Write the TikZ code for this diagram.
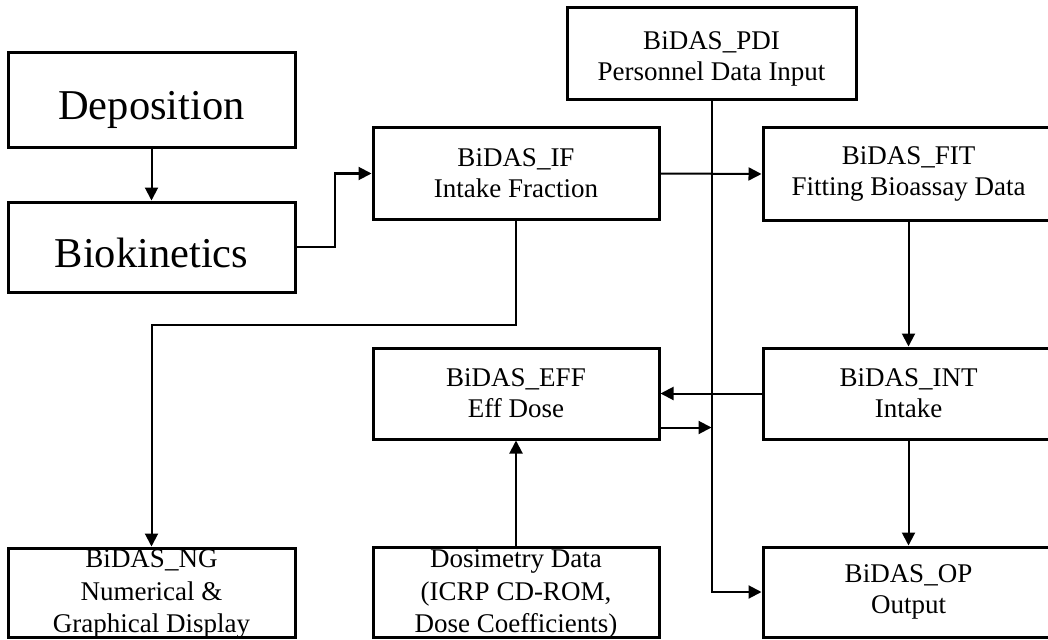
\documentclass[tikz,border=0pt]{standalone}
\usepackage{fontspec}
\setmainfont{Liberation Serif}
\usetikzlibrary{arrows.meta}
\tikzset{
  box/.style={draw=black, line width=3pt, inner sep=0pt, align=center,
    font=\fontsize{27}{31}\selectfont},
  bigbox/.style={box, font=\fontsize{42.5}{48}\selectfont},
  label/.style={inner sep=0pt, align=center, font=\fontsize{27}{31}\selectfont},
  biglabel/.style={inner sep=0pt, align=center, font=\fontsize{42.5}{48}\selectfont},
  txt/.style={inner sep=0pt, align=center, font=\fontsize{27}{32.5}\selectfont},
  arr/.style={draw=black, line width=2pt, -{Triangle[length=13pt,width=13pt]}}
}
\begin{document}
\begin{tikzpicture}[x=1pt,y=-1pt]
\useasboundingbox (0,0) rectangle (1048,639);
\clip (0,0) rectangle (1048,639);
\fill[white] (0,0) rectangle (1048,639);
% boxes
\node[bigbox, minimum width=287pt, minimum height=95pt] (dep) at (151.5,100.5) {};
\node[bigbox, minimum width=287pt, minimum height=90pt] (bio) at (151.5,247) {};
\node[biglabel] (dept) at ([yshift=-9pt]dep.center) {Deposition};
\node[biglabel] (biot) at ([yshift=-6pt]bio.center) {Biokinetics};
\node[box, minimum width=286pt, minimum height=91pt] (if) at (516,173.5) {BiDAS\_IF\\Intake Fraction};
\node[box, minimum width=289pt, minimum height=92pt] (pdi) at (711.5,54) {};
\node[label] (pdit) at ([yshift=-5pt]pdi.center) {BiDAS\_PDI\\Personnel Data Input};
\node[box, minimum width=291pt, minimum height=92pt] (fit) at (908.5,174) {BiDAS\_FIT\\Fitting Bioassay Data};
\node[box, minimum width=286pt, minimum height=91pt] (eff) at (516,393.5) {BiDAS\_EFF\\Eff Dose};
\node[box, minimum width=291pt, minimum height=91pt] (int) at (908.5,393.5) {BiDAS\_INT\\Intake};
\node[box, minimum width=287pt, minimum height=89pt] (ng) at (151.5,592.5) {};
\node[box, minimum width=286pt, minimum height=90pt] (dos) at (516,592) {};
\node[box, minimum width=291pt, minimum height=90pt] (op) at (908.5,592) {BiDAS\_OP\\Output};
% texts of bottom boxes (overflowing the frame)
\node[txt, anchor=north] (ngt) at ([yshift=-3pt]ng.north) {BiDAS\_NG\\Numerical \&\\Graphical Display};
\node[txt, anchor=north] (dost) at ([yshift=-4pt]dos.north) {Dosimetry Data\\(ICRP CD-ROM,\\Dose Coefficients)};
% connectors
\draw[arr] (dep) -- (bio);
\draw[arr] (bio.east) -- ++(38,0) |- (if.west);
\draw[arr] (if.east) -- (fit.west);
\draw[arr] (pdi.south) |- (op.west);
\draw[arr] (fit.south) -- (int.north);
\draw[arr] (int.west) -- (eff.east);
\coordinate (effout) at ([yshift=-34pt]eff.east);
\draw[arr] (effout) -- (effout -| pdi.south);
\draw[arr] (int.south) -- (op.north);
\draw[arr] (if.south) -- ++(0,104) -| (ng.north);
\draw[arr] (dos.north) -- (eff.south);
\end{tikzpicture}
\end{document}
